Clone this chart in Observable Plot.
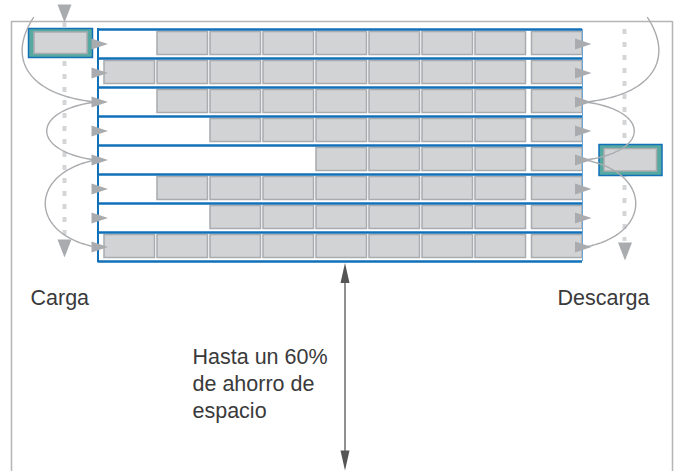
<!DOCTYPE html>
<html><head><meta charset="utf-8">
<script src="https://cdn.jsdelivr.net/npm/d3@7"></script>
<script src="https://cdn.jsdelivr.net/npm/@observablehq/plot@0.6"></script>
<style>html,body{margin:0;padding:0;background:#fff}#chart svg{display:block}</style>
</head><body><div id="chart"></div>
<script>
// ---- data ----
const rowIds = [1, 2, 3, 4, 5, 6, 7, 8];
const firstSlot = [1, 0, 1, 2, 4, 1, 2, 0];   // first occupied pallet slot in each channel
const slotIds = [0, 1, 2, 3, 4, 5, 6, 7, 8];
const loops = [[null, 2], [2, 4], [4, 7]];      // shuttle path: entry -> channel 3 -> 5 -> 8
const sideLabels = ["Carga", "Descarga"];
const noteLines = ["Hasta un 60%", "de ahorro de", "espacio"];

// ---- layout (pixels) ----
const W = 677, H = 471;
const rackL = 97.5, rackR = 582, rackT = 29, rowH = 29;
const nRows = rowIds.length, rackB = rackT + nRows * rowH;
const slotX0 = 104, slotPitch = 53, slotW = 50.5, lastGap = 3.5;
const rowTop = i => rackT + i * rowH;
const rowMid = i => rackT + i * rowH + rowH / 2;
const slotLeft = s => slotX0 + s * slotPitch + (s === slotIds.length - 1 ? lastGap : 0);

const grey = "#a9abae", boxFill = "#d1d3d4", blue = "#1170b8", teal = "#55a9a0", dash = "#d4d5d7";

const boxes = rowIds.flatMap((r, i) => slotIds.filter(s => s >= firstSlot[i]).map(s => ({
  x1: slotLeft(s), x2: slotLeft(s) + slotW, y1: rowTop(i) + 2.5, y2: rowTop(i) + 25.5
})));

// symbols
const arrowRight = {draw(c) { c.moveTo(-8, -5.5); c.lineTo(8.5, 0); c.lineTo(-8, 5.5); c.closePath(); }};
const arrowDown = {draw(c) { c.moveTo(-7, -9); c.lineTo(7, -9); c.lineTo(0, 9); c.closePath(); }};
const headUp = {draw(c) { c.moveTo(0, -10); c.lineTo(4.5, 10); c.lineTo(-4.5, 10); c.closePath(); }};
const headDown = {draw(c) { c.moveTo(0, 10); c.lineTo(4.5, -10); c.lineTo(-4.5, -10); c.closePath(); }};

// curves: cubic bezier sampled
function bez(p, t) {
  const u = 1 - t;
  return [u*u*u*p[0][0] + 3*u*u*t*p[1][0] + 3*u*t*t*p[2][0] + t*t*t*p[3][0],
          u*u*u*p[0][1] + 3*u*u*t*p[1][1] + 3*u*t*t*p[2][1] + t*t*t*p[3][1]];
}
const curvePts = [];
loops.forEach(([a, b], k) => {
  let ctrl;
  if (a === null) ctrl = [[33, 17], [5, 60], [30, 95], [95, rowMid(b)]];
  else {
    const y0 = rowMid(a), y1 = rowMid(b), bx = (b - a) > 2 ? 28 : 30;
    ctrl = [[95, y0], [bx, y0 + (y1 - y0) * 0.15], [bx, y1 - (y1 - y0) * 0.15], [95, y1]];
  }
  for (const side of [0, 1]) {
    for (let j = 0; j <= 60; j++) {
      const [x, y] = bez(ctrl, j / 60);
      curvePts.push({id: k + "-" + side, x: side ? 680 - x : x, y});
    }
  }
});

const arrowsL = rowIds.map((r, i) => ({x: rackL + 1.5, y: rowMid(i)}));
const arrowsR = rowIds.map((r, i) => ({x: rackR + 0.5, y: rowMid(i)}));

const plot = Plot.plot({
  width: W, height: H, margin: 0,
  x: {domain: [0, W], range: [0, W], axis: null},
  y: {domain: [0, H], range: [0, H], axis: null},
  style: {fontFamily: "'Liberation Sans', Arial, sans-serif", background: "#fff"},
  marks: [
    // outer frame
    Plot.ruleY([21], {x1: 11, x2: 672, stroke: "#b5b5b5", strokeWidth: 1.5}),
    Plot.ruleX([11, 672], {y1: 21, y2: H, stroke: "#b5b5b5", strokeWidth: 1.5}),
    // dashed shuttle tracks
    Plot.ruleX([64], {y1: 22, y2: 238, stroke: dash, strokeWidth: 4, strokeDasharray: "5,8"}),
    Plot.ruleX([624], {y1: 29, y2: 241, stroke: dash, strokeWidth: 4, strokeDasharray: "5,8"}),
    // pallets
    Plot.rect(boxes, {x1: "x1", x2: "x2", y1: "y1", y2: "y2", fill: boxFill, stroke: grey, strokeWidth: 1.5}),
    // rack
    Plot.ruleY(d3.range(nRows + 1).map(rowTop), {y: d => d, x1: rackL, x2: rackR, stroke: blue, strokeWidth: 2.5}),
    Plot.ruleX([rackL], {y1: rackT - 1, y2: rackB + 1, stroke: blue, strokeWidth: 2}),
    Plot.ruleX([rackR], {y1: rackT, y2: rackB, stroke: "#6aa6d8", strokeWidth: 1}),
    // loading / unloading shuttles
    Plot.rect([{x1: 28.5, x2: 92.5, y1: 28.5, y2: 57.5}, {x1: 599, x2: 662, y1: 144.5, y2: 175.5}],
      {x1: "x1", x2: "x2", y1: "y1", y2: "y2", fill: teal, stroke: blue, strokeWidth: 1.5}),
    Plot.rect([{x1: 34, x2: 87, y1: 32, y2: 53.5}, {x1: 604, x2: 656.5, y1: 148.5, y2: 171}],
      {x1: "x1", x2: "x2", y1: "y1", y2: "y2", fill: boxFill, stroke: grey, strokeWidth: 1.5}),
    // shuttle path curves
    Plot.line(curvePts, {x: "x", y: "y", z: "id", stroke: grey, strokeWidth: 1.4}),
    // arrows
    Plot.dot(arrowsL, {x: "x", y: "y", symbol: arrowRight, fill: grey}),
    Plot.dot(arrowsR, {x: "x", y: "y", symbol: arrowRight, fill: grey}),
    Plot.dot([{x: 64, y: 13}, {x: 64, y: 248}, {x: 624.5, y: 251}], {x: "x", y: "y", symbol: arrowDown, fill: grey}),
    // space-saving dimension arrow
    Plot.ruleX([344.5], {y1: 268, y2: 465, stroke: "#555", strokeWidth: 1.3}),
    Plot.dot([{x: 344.5, y: 272.5}], {x: "x", y: "y", symbol: headUp, fill: "#555"}),
    Plot.dot([{x: 344.5, y: 460}], {x: "x", y: "y", symbol: headDown, fill: "#555"}),
    // labels
    Plot.text(sideLabels, {x: (d, i) => i ? 557 : 30, y: 304, text: d => d, textAnchor: "start", lineAnchor: "bottom", fontSize: 21.5, fill: "#3a3a3a"}),
    Plot.text(noteLines, {x: 192, y: (d, i) => 363 + i * 27, text: d => d, textAnchor: "start", lineAnchor: "bottom", fontSize: 21.5, fill: "#3a3a3a"})
  ]
});
document.getElementById("chart").appendChild(plot);
</script>
</body></html>
